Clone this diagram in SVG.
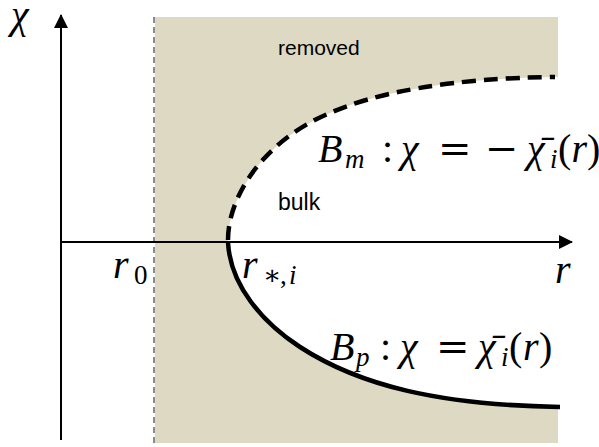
<svg xmlns="http://www.w3.org/2000/svg" width="599" height="447" viewBox="0 0 599 447">
<style>
.m{font-family:"Liberation Serif","DejaVu Serif",serif;font-size:40px;fill:#000}
.i{font-style:italic}
.s{font-size:27px}
.op{font-family:"DejaVu Serif","Liberation Serif",serif;font-style:normal}
.sans{font-family:"Liberation Sans","Open Sans",sans-serif;fill:#000}
.axis{stroke:#000;stroke-width:2;fill:none}
</style>
<defs>
<marker id="arr" viewBox="0 0 14 14" refX="13" refY="7" markerWidth="14" markerHeight="14" markerUnits="userSpaceOnUse" orient="auto">
<path d="M0,0 L14,7 L0,14 Z" fill="#000"/>
</marker>
</defs>
<g id="removed-region">
<rect x="155" y="17" width="403" height="426" fill="#DDD9C3"/>
<path d="M228,242 C228,195 265,140 330,113 C375,93 450,78 558,77 L558,407 C440,405 360,386 300,347 C262,322 230,285 228,242 Z" fill="#FFFFFF"/>
</g>
<g id="connectors">
<line x1="154" y1="17" x2="154" y2="443" stroke="#666" stroke-width="1.5" stroke-dasharray="6,4"/>
<line class="axis" x1="61" y1="440" x2="61" y2="15" marker-end="url(#arr)"/>
<line class="axis" x1="61" y1="242" x2="572" y2="242" marker-end="url(#arr)"/>
</g>
<g id="boundary-Bm">
<path d="M228,240 C228,195 265,140 330,113 C375,93 450,78 555,77" fill="none" stroke="#000" stroke-width="4.5" stroke-dasharray="14,8"/>
</g>
<g id="boundary-Bp">
<path d="M228,242 C230,285 262,322 300,347 C360,386 440,405 560,407" fill="none" stroke="#000" stroke-width="4.5"/>
</g>
<g id="labels">
<text class="m i" x="11" y="28" font-size="33">χ</text>
<text class="sans" x="278" y="55" font-size="21">removed</text>
<text class="sans" x="278" y="210" font-size="23">bulk</text>
<text class="m" y="162"><tspan class="i" x="318">B</tspan><tspan class="i s" x="345" dy="6">m</tspan><tspan x="382" dy="-6">:</tspan><tspan class="i" x="401">χ</tspan><tspan class="op" x="438">=</tspan><tspan class="op" x="485">−</tspan><tspan class="i" x="527">χ̄</tspan><tspan class="i s" x="550" dy="6">i</tspan><tspan x="558" dy="-6">(</tspan><tspan class="i" x="571.5">r</tspan><tspan x="587">)</tspan></text>
<text class="m" y="360"><tspan class="i" x="330">B</tspan><tspan class="i s" x="356" dy="6">p</tspan><tspan x="380" dy="-6">:</tspan><tspan class="i" x="400">χ</tspan><tspan class="op" x="436">=</tspan><tspan class="i" x="478">χ̄</tspan><tspan class="i s" x="501" dy="6">i</tspan><tspan x="509" dy="-6">(</tspan><tspan class="i" x="523">r</tspan><tspan x="539">)</tspan></text>
<text class="m" y="278"><tspan class="i" x="113">r</tspan><tspan class="s" x="134" dy="6">0</tspan></text>
<text class="m" y="278"><tspan class="i" x="242">r</tspan><tspan class="s" x="263" dy="6">∗</tspan><tspan class="s" x="280">,</tspan><tspan class="s i" x="289">i</tspan></text>
<text class="m i" x="555" y="283">r</text>
</g>
</svg>
